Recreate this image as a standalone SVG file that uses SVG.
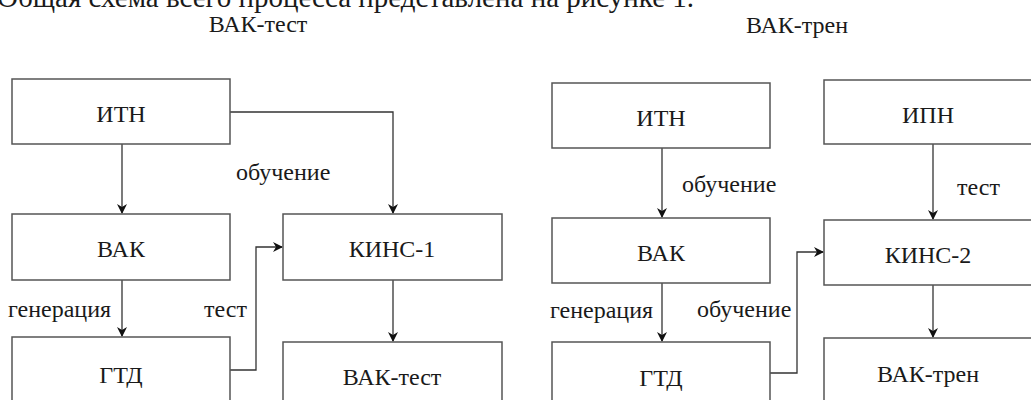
<svg xmlns="http://www.w3.org/2000/svg" width="1031" height="400" viewBox="0 0 1031 400">
<style>
.box{fill:#fff;stroke:#555;stroke-width:1.5}
.ln{fill:none;stroke:#333;stroke-width:1.3}
.c{text-anchor:middle}
</style>
<defs>
<marker id="ah" markerWidth="10" markerHeight="10" refX="9" refY="5" orient="auto" markerUnits="userSpaceOnUse">
<path d="M0,0 L10,5 L0,10 L3,5 Z" fill="#111"/>
</marker>
</defs>
<rect width="1031" height="400" fill="#fff"/>
<text x="-3" y="7" font-size="29" font-family="Liberation Serif" fill="#1a1a1a">Общая схема всего процесса представлена на рисунке 1.</text>
<text class="c" x="258" y="32" font-size="24" font-family="Liberation Serif" fill="#1a1a1a">ВАК-тест</text>
<text class="c" x="797" y="33" font-size="24" font-family="Liberation Serif" fill="#1a1a1a">ВАК-трен</text>

<g id="connectors">
<path class="ln" d="M122,144 V213" marker-end="url(#ah)"/>
<path class="ln" d="M230,112 H393 V213" marker-end="url(#ah)"/>
<path class="ln" d="M122,280 V336" marker-end="url(#ah)"/>
<path class="ln" d="M230,370 H256 V247 H282" marker-end="url(#ah)"/>
<path class="ln" d="M393,280 V341" marker-end="url(#ah)"/>
<path class="ln" d="M662,148 V217" marker-end="url(#ah)"/>
<path class="ln" d="M933,144 V219" marker-end="url(#ah)"/>
<path class="ln" d="M662,283 V341" marker-end="url(#ah)"/>
<path class="ln" d="M770,373 H797 V252 H823" marker-end="url(#ah)"/>
<path class="ln" d="M933,285 V337" marker-end="url(#ah)"/>
</g>
<g id="labels">
<text x="236" y="180" font-size="24" font-family="Liberation Serif" fill="#1a1a1a">обучение</text>
<text x="8" y="317" font-size="24" font-family="Liberation Serif" fill="#1a1a1a">генерация</text>
<text x="204" y="317" font-size="24" font-family="Liberation Serif" fill="#1a1a1a">тест</text>
<text x="682" y="192" font-size="24" font-family="Liberation Serif" fill="#1a1a1a">обучение</text>
<text x="957" y="195" font-size="24" font-family="Liberation Serif" fill="#1a1a1a">тест</text>
<text x="550" y="318" font-size="24" font-family="Liberation Serif" fill="#1a1a1a">генерация</text>
<text x="697" y="317" font-size="24" font-family="Liberation Serif" fill="#1a1a1a">обучение</text>
</g>

<g id="itn1"><rect class="box" x="12" y="79" width="218" height="65"/><text class="c" x="121" y="122" font-size="24" font-family="Liberation Serif" fill="#1a1a1a">ИТН</text></g>
<g id="vak1"><rect class="box" x="12" y="214" width="218" height="66"/><text class="c" x="121" y="257" font-size="24" font-family="Liberation Serif" fill="#1a1a1a">ВАК</text></g>
<g id="gtd1"><rect class="box" x="12" y="337" width="218" height="75"/><text class="c" x="121" y="383" font-size="24" font-family="Liberation Serif" fill="#1a1a1a">ГТД</text></g>
<g id="kins1"><rect class="box" x="283" y="214" width="219" height="66"/><text class="c" x="392" y="257" font-size="24" font-family="Liberation Serif" fill="#1a1a1a">КИНС-1</text></g>
<g id="vaktest"><rect class="box" x="283" y="342" width="219" height="70"/><text class="c" x="392" y="385" font-size="24" font-family="Liberation Serif" fill="#1a1a1a">ВАК-тест</text></g>

<g id="itn2"><rect class="box" x="552" y="83" width="218" height="65"/><text class="c" x="661" y="126" font-size="24" font-family="Liberation Serif" fill="#1a1a1a">ИТН</text></g>
<g id="ipn"><rect class="box" x="824" y="80" width="220" height="64"/><text class="c" x="928" y="123" font-size="24" font-family="Liberation Serif" fill="#1a1a1a">ИПН</text></g>
<g id="vak2"><rect class="box" x="552" y="218" width="218" height="65"/><text class="c" x="661" y="261" font-size="24" font-family="Liberation Serif" fill="#1a1a1a">ВАК</text></g>
<g id="kins2"><rect class="box" x="824" y="220" width="220" height="65"/><text class="c" x="928" y="263" font-size="24" font-family="Liberation Serif" fill="#1a1a1a">КИНС-2</text></g>
<g id="gtd2"><rect class="box" x="552" y="342" width="218" height="70"/><text class="c" x="661" y="386" font-size="24" font-family="Liberation Serif" fill="#1a1a1a">ГТД</text></g>
<g id="vaktren"><rect class="box" x="824" y="338" width="220" height="74"/><text class="c" x="928" y="382" font-size="24" font-family="Liberation Serif" fill="#1a1a1a">ВАК-трен</text></g>
</svg>
